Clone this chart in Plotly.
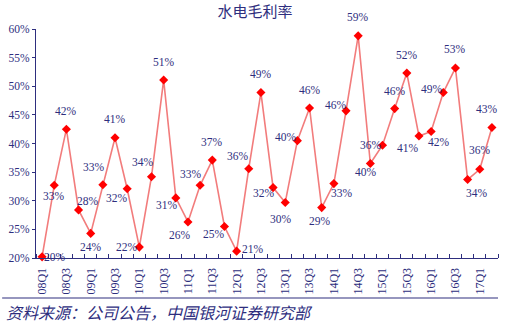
import plotly.graph_objects as go

quarters = [f"{y:02d}Q{q}" for y in range(8, 18) for q in range(1, 5)][:38]
margin_vals = [20.2, 32.7, 42.5, 28.4, 24.3, 32.8, 41.0, 32.1, 21.9, 34.2,
               51.1, 30.5, 26.3, 32.7, 37.1, 25.5, 21.2, 35.6, 48.9, 32.3,
               29.7, 40.5, 46.2, 28.8, 33.0, 45.7, 58.8, 36.5, 39.7, 46.1,
               52.3, 41.3, 42.1, 48.9, 53.2, 33.7, 35.5, 42.8]
point_labels = ["20%", "33%", "42%", "28%", "24%", "33%", "41%", "32%", "22%", "34%",
                "51%", "31%", "26%", "33%", "37%", "25%", "21%", "36%", "49%", "32%",
                "30%", "40%", "46%", "29%", "33%", "46%", "59%", "40%", "36%", "46%",
                "52%", "41%", "42%", "49%", "53%", "34%", "36%", "43%"]
tick_idx = list(range(0, 38, 2))
tick_text = [quarters[i] for i in tick_idx]
y_ticks = [20, 25, 30, 35, 40, 45, 50, 55, 60]

# label offsets in pixels (dx right, dy down) relative to each point
label_dx = [13, 0, 0, 9, 0, -9, 0, -10, -12, -9,
            0, -9, -8, -9, 0, -10, 16, -11, 0, -9,
            -4, -11, 0, -2, 8, -10, 0, -4, -12, 0,
            0, -11, 8, -11, 0, 9, 0, -5]
label_dy = [0, 11, -18, -9, 14, -18, -19, 9, 0, -15,
            -18, 7, 13, -11, -18, 7, -2, -13, -19, 5,
            17, -4, -18, 13, 9, -6, -19, 8, 0, -18,
            -18, 12, 11, -4, -19, 13, -19, -18]

navy = "#2E2E7E"
xs = list(range(len(margin_vals)))

fig = go.Figure()
fig.add_trace(go.Scatter(
    x=xs, y=margin_vals, mode="lines+markers",
    line=dict(color="#F27C7C", width=1.6),
    marker=dict(symbol="diamond", color="#FF0000", size=7),
    cliponaxis=False, showlegend=False,
))

for x, y, t, dx, dy in zip(xs, margin_vals, point_labels, label_dx, label_dy):
    fig.add_annotation(x=x, y=y, text=t, showarrow=False,
                       xanchor="center", yanchor="middle",
                       xshift=dx, yshift=-dy,
                       font=dict(family="Liberation Serif", size=11.5, color=navy))

fig.update_layout(
    width=507, height=327,
    margin=dict(l=34, r=9, t=29, b=69),
    paper_bgcolor="white", plot_bgcolor="white",
    title=dict(text="水电毛利率", x=0.503, xanchor="center", y=0.963, yanchor="middle",
               font=dict(family="Noto Sans CJK SC", size=15, color=navy)),
    xaxis=dict(range=[-0.5, 37.5], tickmode="array", tickvals=tick_idx, ticktext=tick_text,
               tickangle=-90, ticks="", showgrid=False, zeroline=False,
               showline=True, linecolor=navy, linewidth=1.2, ticklabelstandoff=4,
               tickfont=dict(family="Liberation Serif", size=12, color=navy),
               minor=dict(tick0=-0.5, dtick=1, ticks="inside", ticklen=4,
                          tickcolor=navy, showgrid=False)),
    yaxis=dict(range=[20, 60], tickvals=y_ticks, ticktext=[f"{v}%" for v in y_ticks],
               ticks="outside", ticklen=3, tickcolor=navy, showgrid=False, zeroline=False,
               showline=True, linecolor=navy, linewidth=1.2,
               tickfont=dict(family="Liberation Serif", size=11.5, color=navy)),
)

# bottom rule and source note
fig.add_shape(type="line", xref="paper", yref="paper",
              x0=-34/464, x1=1.0, y0=-40/229, y1=-40/229,
              line=dict(color=navy, width=1.2))
fig.add_annotation(text="<i>资料来源：公司公告，中国银河证券研究部</i>",
                   xref="paper", yref="paper", x=-32/464, y=-54/229,
                   xanchor="left", yanchor="middle", showarrow=False,
                   font=dict(family="Noto Sans CJK SC", size=16, color=navy))

fig.write_html("out.html")
